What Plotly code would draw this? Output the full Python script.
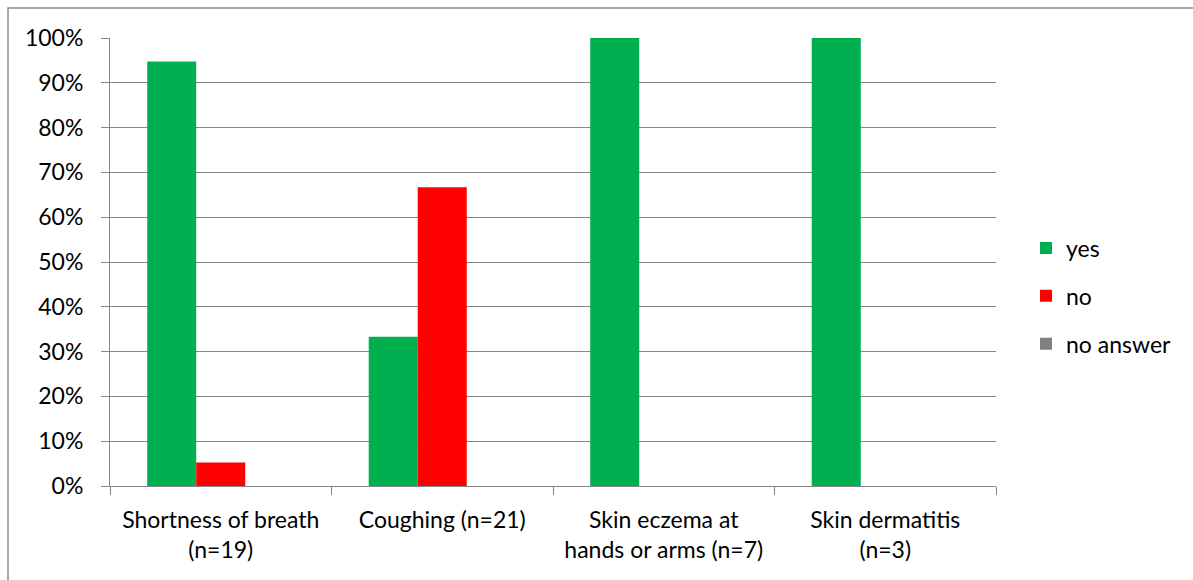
import plotly.graph_objects as go

categories = [
    "Shortness of breath<br>(n=19)",
    "Coughing (n=21)",
    "Skin eczema at<br>hands or arms (n=7)",
    "Skin dermatitis<br>(n=3)",
]
yes_share = [18 / 19, 7 / 21, 1.0, 1.0]
no_share = [1 / 19, 14 / 21, 0.0, 0.0]
no_answer_share = [0.0, 0.0, 0.0, 0.0]

series = [
    ("yes", yes_share, "#00B050"),
    ("no", no_share, "#FF0000"),
    ("no answer", no_answer_share, "#808080"),
]

fig = go.Figure()
for name, vals, color in series:
    fig.add_trace(go.Bar(
        x=categories, y=vals, name=name, legendgroup=name,
        marker=dict(color=color, line=dict(width=0)),
    ))

W, H = 1193, 580
L, R, T, B = 110, 197, 38, 94
pw, ph = W - L - R, H - T - B
grid = "#868686"
fsize = 23

fig.update_layout(
    width=W, height=H,
    margin=dict(l=L, r=R, t=T, b=B),
    paper_bgcolor="white", plot_bgcolor="white",
    font=dict(family="Lato, 'Open Sans', sans-serif", size=fsize, color="black"),
    barmode="group", bargap=0.336, bargroupgap=0,
    showlegend=True,
    legend=dict(
        x=1 + (1026 - L - pw) / pw, xanchor="left",
        y=1 - (296 - T) / ph, yanchor="middle",
        tracegroupgap=15, font=dict(size=fsize),
        bgcolor="rgba(0,0,0,0)",
    ),
    xaxis=dict(
        type="category", tickson="boundaries", ticks="outside", ticklen=8,
        tickcolor=grid, showgrid=False, showline=True, linecolor=grid,
        linewidth=1, zeroline=False, tickfont=dict(size=fsize),
        ticklabelstandoff=13,
    ),
    yaxis=dict(
        range=[0, 1], dtick=0.1, tickformat=".0%", ticks="outside",
        ticklen=8, tickcolor=grid, showgrid=True, gridcolor=grid,
        gridwidth=1, showline=True, linecolor=grid, linewidth=1,
        zeroline=False, tickfont=dict(size=fsize), ticklabelstandoff=13,
    ),
    shapes=[dict(
        type="rect", xref="paper", yref="paper",
        x0=(8 - L) / pw, x1=(W + 20 - L) / pw,
        y0=-(B + 20) / ph, y1=1 + (T - 8) / ph,
        line=dict(color="#8c8c8c", width=1.5), layer="below",
    )],
)

fig.write_html("out.html")
